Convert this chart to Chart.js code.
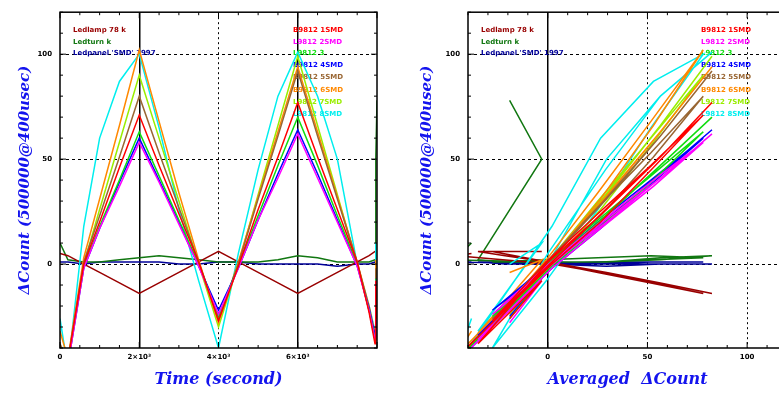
<!DOCTYPE html>
<html>
<head>
<meta charset="utf-8">
<script src="https://cdn.jsdelivr.net/npm/chart.js@4/dist/chart.umd.min.js"></script>
<style>
  html, body { margin: 0; padding: 0; background: #fff; overflow: hidden; width: 779px; height: 394px; }
  #left { position: absolute; left: 0; top: 0; }
  #right { position: absolute; left: 390px; top: 0; }
</style>
</head>
<body>
<canvas id="left" width="390" height="394"></canvas>
<canvas id="right" width="410" height="394"></canvas>
<script>
// time axis (x 10^3 s)
const times = [0, 0.2, 0.6, 1.0, 1.5, 2.0, 2.5, 3.0, 3.5, 4.0, 4.5, 5.0, 5.5, 6.0, 6.5, 7.0, 7.5, 7.8, 7.95, 7.97, 8.0];

// Delta count per sample
const sRed     = [-40, -46,  0, 20, 46,  71, 47, 24,  1, -27, -1, 26, 51,  77, 51, 26,  1, -23, -38, -8, -26];
const sMagenta = [-44, -48, -2, 17, 37,  58, 39, 19, -1, -24, -2, 21, 41,  62, 41, 20, -1, -22, -36, -8, -28];
const sGreen   = [-42, -47, -1, 18, 40,  63, 42, 21,  0, -25, -1, 23, 47,  70, 47, 23,  0, -22, -36, -7, -26];
const sBlue    = [-44, -48, -2, 17, 39,  60, 40, 20, -1, -22, -2, 21, 43,  64, 43, 21, -1, -21, -34, -7, -25];
const sBrown   = [-38, -46,  1, 23, 51,  80, 53, 27,  1, -26,  0, 31, 61,  92, 61, 31,  1, -21, -35, -2, -20];
const sOrange  = [-32, -45,  3, 31, 66, 102, 68, 34,  2, -28,  1, 32, 63,  94, 63, 32,  1, -20, -33,  2, -4];
const sLime    = [-40, -47,  0, 26, 58,  90, 60, 30,  0, -30,  0, 33, 66,  99, 66, 33,  0, -22, -36, -4, -24];
const sCyan    = [-26, -50, 18, 60, 87, 100, 65, 26, -8, -40,  5, 45, 80, 101, 80, 50,  0, -20, -32, 10, 0];
const sLamp    = [5, 4, 0, -4, -9, -14, -9, -4, 1, 6, 1, -4, -9, -14, -9, -4, 1, 4, 6, 6, 6];
const sTurn    = [10, 2, 1, 1, 2, 3, 4, 3, 2, 1, 1, 1, 2, 4, 3, 1, 1, 1, 2, 50, 78];
const sPanel   = [1, 1, 0, 1, 1, 1, 1, 0, 0, 1, 1, 0, 0, 0, 0, -1, 0, 0, 1, 1, 1];

const sampleSeries = [sRed, sMagenta, sGreen, sBlue, sBrown, sOrange, sLime, sCyan];
const refSeries = [sLamp, sTurn, sPanel];
const sampleNames = ['B9812 1SMD', 'L9812 2SMD', 'L9812 3', 'B9812 4SMD', 'B9812 5SMD', 'B9812 6SMD', 'L9812 7SMD', 'L9812 8SMD'];
const refNames = ['Ledlamp 78 k', 'Ledturn k', "Ledpanel 'SMD' 1997"];

const sampleColors = ['#ff0000', '#ff00ff', '#11dd11', '#0000ff', '#996633', '#ff8800', '#99ee00', '#00eeee'];
const refColors = ['#990000', '#117711', '#000099'];

// averaged delta count over the samples
const averaged = times.map((_, i) => sampleSeries.reduce((s, arr) => s + arr[i], 0) / sampleSeries.length);

Chart.defaults.font.family = 'DejaVu Sans';
Chart.defaults.color = '#000';

function makeSets(xs) {
  const all = sampleSeries.concat(refSeries);
  const names = sampleNames.concat(refNames);
  const colors = sampleColors.concat(refColors);
  return all.map((s, k) => ({
    label: names[k],
    data: s.map((v, i) => ({ x: xs[i], y: v })),
    borderColor: colors[k],
    backgroundColor: colors[k],
    borderWidth: 1.5,
    pointRadius: 0,
    showLine: true,
    tension: 0
  }));
}

const framePlugin = {
  id: 'frame',
  afterDraw(chart, args, opts) {
    const { ctx, chartArea: a, scales: { x, y } } = chart;
    ctx.save();
    ctx.strokeStyle = '#000';
    ctx.lineWidth = 1;
    ctx.beginPath();
    y.ticks.forEach(t => {
      const py = y.getPixelForValue(t.value);
      const len = t.value % opts.majorY === 0 ? 6 : 3;
      ctx.moveTo(a.left, py); ctx.lineTo(a.left + len, py);
      ctx.moveTo(a.right, py); ctx.lineTo(a.right - len, py);
    });
    x.ticks.forEach(t => {
      const px = x.getPixelForValue(t.value);
      const len = t.value % opts.majorX === 0 ? 6 : 3;
      ctx.moveTo(px, a.bottom); ctx.lineTo(px, a.bottom - len);
      ctx.moveTo(px, a.top); ctx.lineTo(px, a.top + len);
    });
    ctx.stroke();
    ctx.lineWidth = 1.5;
    ctx.strokeRect(a.left, a.top, a.right - a.left, a.bottom - a.top);
    ctx.restore();
  }
};

const notesPlugin = {
  id: 'notes',
  beforeDatasetsDraw(chart) {
    const { ctx, chartArea: a } = chart;
    const sets = chart.data.datasets;
    ctx.save();
    ctx.font = 'bold 7px "DejaVu Sans"';
    ctx.textBaseline = 'middle';
    const refY = [30, 42, 53];
    refY.forEach((py, i) => {
      const ds = sets[sampleSeries.length + i];
      ctx.fillStyle = ds.borderColor;
      ctx.fillText(ds.label, a.left + 13, py);
    });
    const sampleY = [30, 42, 53, 65, 77, 90, 102, 114];
    sampleY.forEach((py, i) => {
      const ds = sets[i];
      ctx.fillStyle = ds.borderColor;
      ctx.fillText(ds.label, a.left + 233, py);
    });
    ctx.restore();
  }
};

const titleFont = { family: 'DejaVu Serif', size: 16, style: 'italic', weight: 'bold' };
const yTitleFont = { family: 'DejaVu Serif', size: 15, style: 'italic', weight: 'bold' };
const tickFont = { size: 7, weight: 'bold' };

function makeOptions(o) {
  return {
    responsive: false,
    animation: false,
    layout: { padding: { top: 8, right: 13, left: 0, bottom: 0 } },
    plugins: {
      legend: { display: false },
      tooltip: { enabled: false },
      frame: { majorX: o.majorX, majorY: 50 }
    },
    scales: {
      x: {
        type: 'linear',
        min: o.xMin, max: o.xMax,
        afterFit: s => { s.height = 46; },
        ticks: {
          stepSize: o.xStep, autoSkip: false, maxRotation: 0, padding: 5,
          font: tickFont, color: '#000',
          callback: o.xLabel
        },
        grid: {
          drawTicks: false,
          color: c => (c.tick && o.xLine(c.tick.value)) ? '#000' : 'rgba(0,0,0,0)',
          lineWidth: c => (c.tick && o.xSolid(c.tick.value)) ? 1.5 : 1
        },
        border: {
          display: false,
          dash: c => (c.tick && o.xSolid(c.tick.value)) ? [] : [2, 3]
        },
        title: {
          display: true, text: o.xTitle, color: '#1414ee', font: titleFont,
          padding: { top: 0, bottom: 5 }
        }
      },
      y: {
        min: -40, max: 120,
        afterFit: s => { s.width = o.yWidth; },
        ticks: {
          stepSize: 10, autoSkip: false, padding: 8,
          font: tickFont, color: '#000',
          callback: v => (v % 50 === 0 ? String(v) : '')
        },
        grid: {
          drawTicks: false,
          color: c => (c.tick && c.tick.value % 50 === 0) ? '#000' : 'rgba(0,0,0,0)'
        },
        border: { display: false, dash: [3, 3] },
        title: {
          display: true, text: 'ΔCount (500000@400usec)', color: '#1414ee', font: yTitleFont,
          padding: { top: o.yTitlePad, bottom: 0 }
        }
      }
    }
  };
}

new Chart(document.getElementById('left'), {
  type: 'scatter',
  data: { datasets: makeSets(times) },
  options: makeOptions({
    xMin: 0, xMax: 8, xStep: 0.5, majorX: 2, yWidth: 60, yTitlePad: 16,
    xTitle: 'Time (second)',
    xLabel: v => (v === 0 ? '0' : (v === 2 || v === 4 || v === 6) ? v + '×10³' : ''),
    xLine: v => v === 2 || v === 4 || v === 6,
    xSolid: v => v === 2 || v === 6
  }),
  plugins: [notesPlugin, framePlugin]
});

new Chart(document.getElementById('right'), {
  type: 'scatter',
  data: { datasets: makeSets(averaged) },
  options: makeOptions({
    xMin: -40, xMax: 120, xStep: 10, majorX: 50, yWidth: 78, yTitlePad: 28,
    xTitle: 'Averaged  ΔCount',
    xLabel: v => ((v === 0 || v === 50 || v === 100) ? String(v) : ''),
    xLine: v => v === 0 || v === 50 || v === 100,
    xSolid: v => v === 0
  }),
  plugins: [notesPlugin, framePlugin]
});
</script>
</body>
</html>
